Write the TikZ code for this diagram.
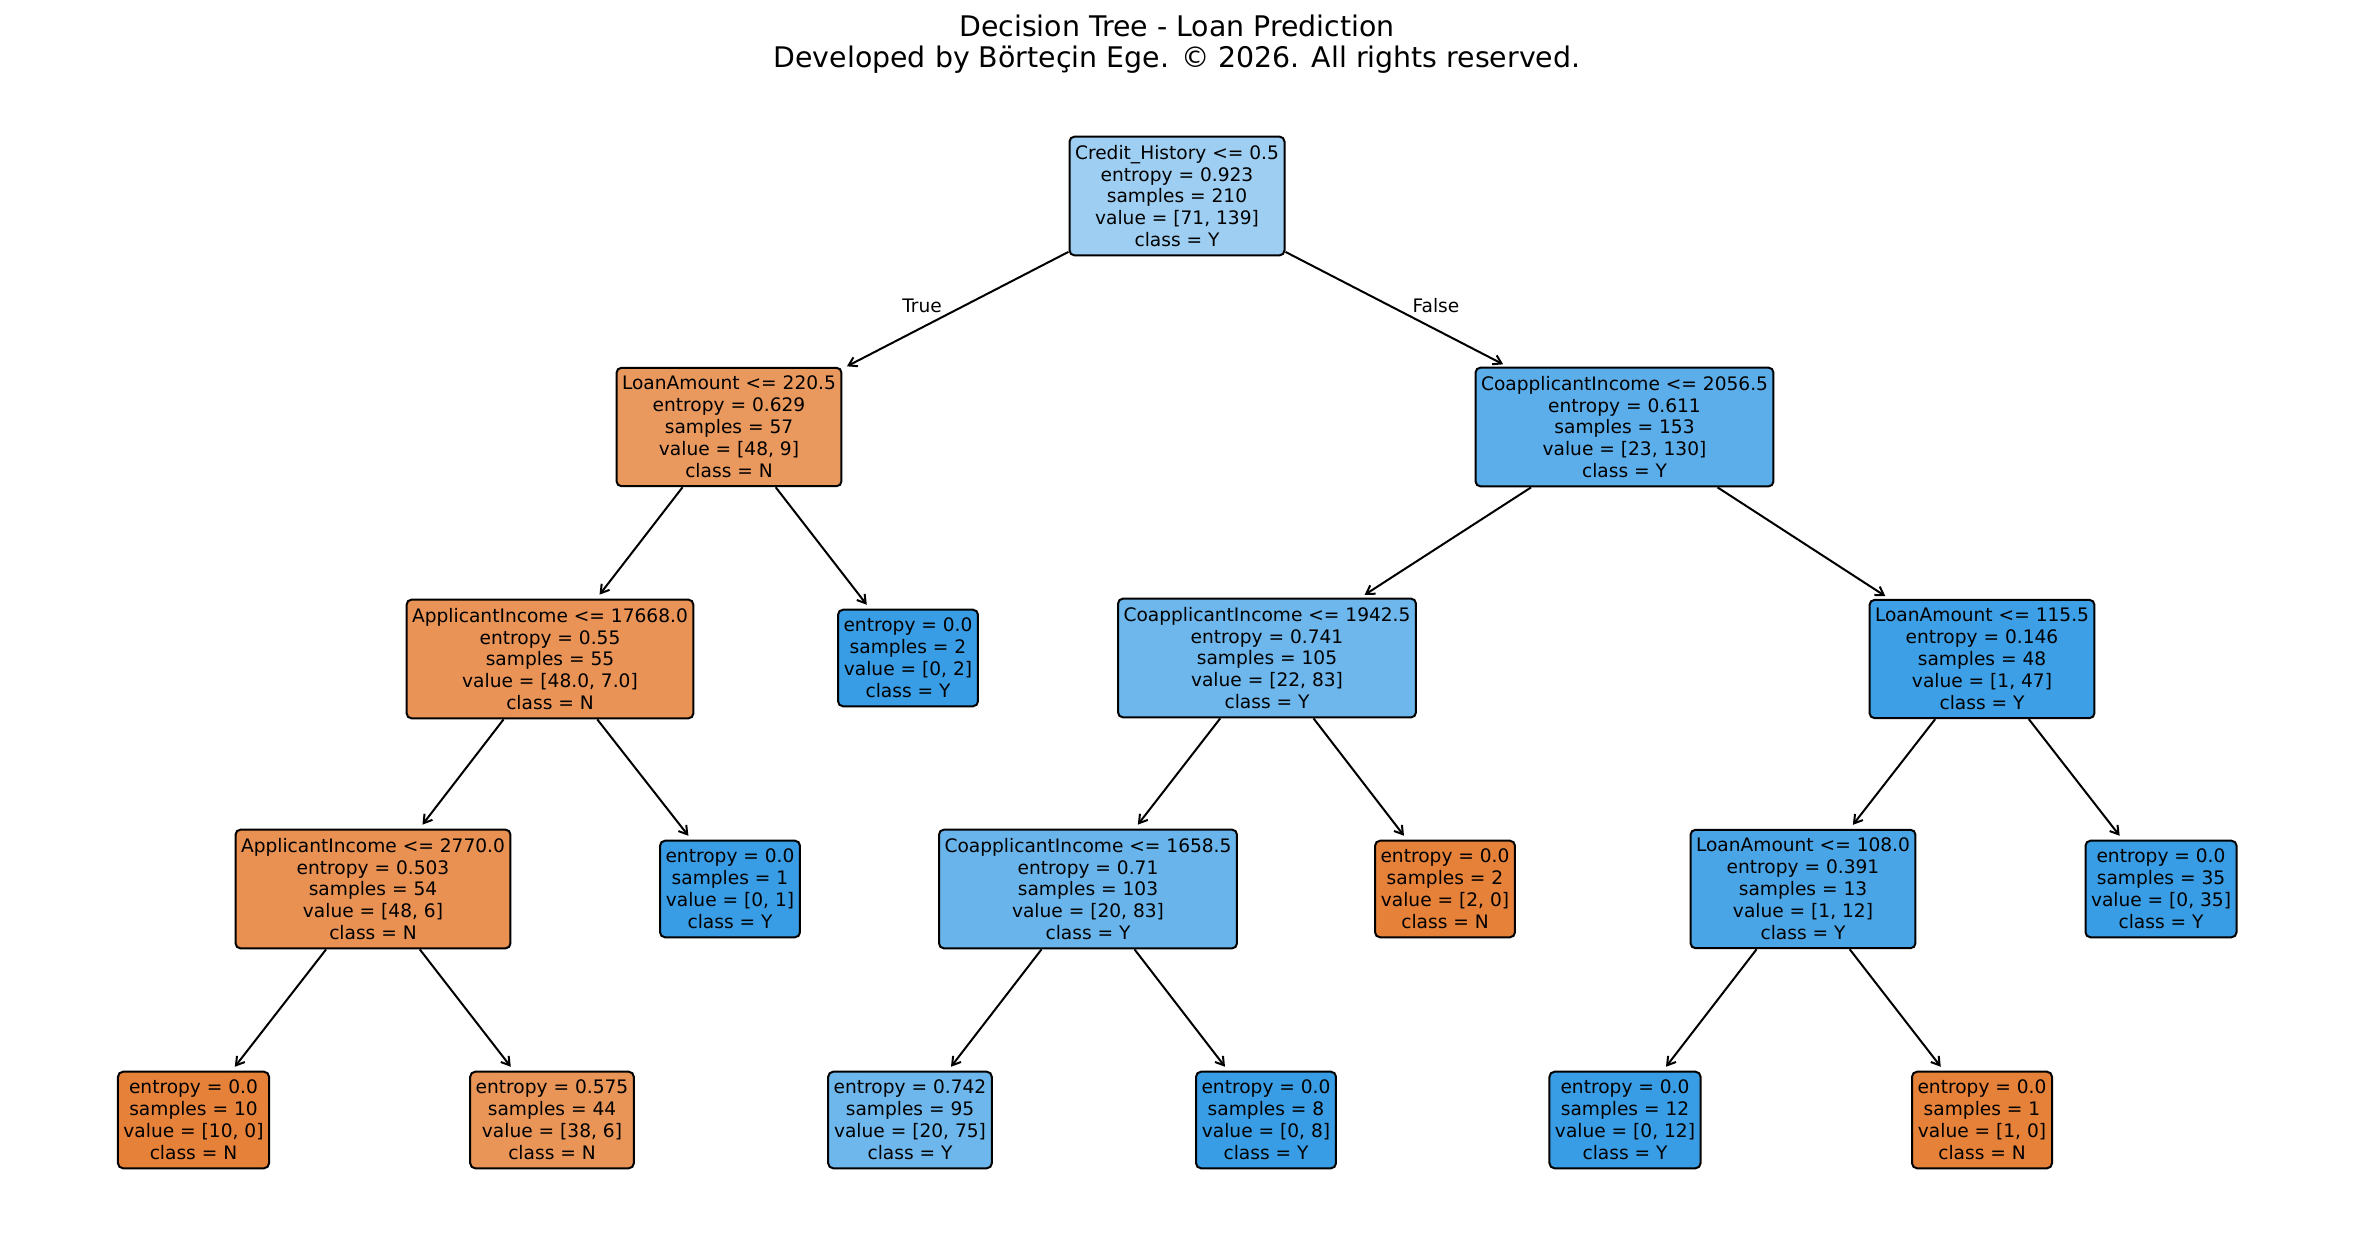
\documentclass[tikz,border=0pt]{standalone}
\usepackage{fontspec}
\setmainfont{DejaVu Sans}
\usetikzlibrary{arrows.meta}
\definecolor{ycol0}{RGB}{158,207,242}
\definecolor{ycol1}{RGB}{92,174,234}
\definecolor{ycol2}{RGB}{109,183,236}
\definecolor{ycol3}{RGB}{61,159,230}
\definecolor{ycol4}{RGB}{105,181,235}
\definecolor{ycol5}{RGB}{74,165,231}
\definecolor{ycol6}{RGB}{110,183,236}
\definecolor{yfull}{RGB}{57,157,229}
\definecolor{ncol1}{RGB}{234,153,94}
\definecolor{ncol2}{RGB}{233,147,86}
\definecolor{ncol3}{RGB}{232,145,82}
\definecolor{ncol4}{RGB}{233,149,88}
\definecolor{nfull}{RGB}{229,129,57}

\begin{document}
\begin{tikzpicture}[x=0.5pt,y=-0.5pt,>={Straight Barb[length=4pt,width=5pt]},
 nodebox/.style={draw,line width=1pt,rounded corners=2.5pt,align=center,inner xsep=2.75pt,inner ysep=4.2pt,font=\fontsize{9.3}{10.95}\selectfont},
 arr/.style={->,line width=1pt,shorten >=2.5pt}]
\useasboundingbox (0,0) rectangle (2355,1251);
\node[anchor=north,inner sep=0pt,align=center,font=\fontsize{14.2}{15.5}\selectfont] (title) at (1177,15)
 {Decision Tree - Loan Prediction\\Developed by Börteçin Ege. © 2026. All rights reserved.};
\node[nodebox,fill=ycol0] (root) at (1177,196) {Credit\_History <= 0.5\\entropy = 0.923\\samples = 210\\value = [71, 139]\\class = Y};
\node[nodebox,fill=ncol1] (la1) at (729,427) {LoanAmount <= 220.5\\entropy = 0.629\\samples = 57\\value = [48, 9]\\class = N};
\node[nodebox,fill=ycol1] (ci1) at (1624.5,427) {CoapplicantIncome <= 2056.5\\entropy = 0.611\\samples = 153\\value = [23, 130]\\class = Y};
\node[nodebox,fill=ncol2] (ai1) at (550,659) {ApplicantIncome <= 17668.0\\entropy = 0.55\\samples = 55\\value = [48.0, 7.0]\\class = N};
\node[nodebox,fill=yfull] (leaf2) at (908,658) {entropy = 0.0\\samples = 2\\value = [0, 2]\\class = Y};
\node[nodebox,fill=ycol2] (ci2) at (1267,658) {CoapplicantIncome <= 1942.5\\entropy = 0.741\\samples = 105\\value = [22, 83]\\class = Y};
\node[nodebox,fill=ycol3] (la2) at (1982,659) {LoanAmount <= 115.5\\entropy = 0.146\\samples = 48\\value = [1, 47]\\class = Y};
\node[nodebox,fill=ncol3] (ai2) at (373,889) {ApplicantIncome <= 2770.0\\entropy = 0.503\\samples = 54\\value = [48, 6]\\class = N};
\node[nodebox,fill=yfull] (leaf1) at (730,889) {entropy = 0.0\\samples = 1\\value = [0, 1]\\class = Y};
\node[nodebox,fill=ycol4] (ci3) at (1088,889) {CoapplicantIncome <= 1658.5\\entropy = 0.71\\samples = 103\\value = [20, 83]\\class = Y};
\node[nodebox,fill=nfull] (leafn2) at (1445,889) {entropy = 0.0\\samples = 2\\value = [2, 0]\\class = N};
\node[nodebox,fill=ycol5] (la3) at (1803,889) {LoanAmount <= 108.0\\entropy = 0.391\\samples = 13\\value = [1, 12]\\class = Y};
\node[nodebox,fill=yfull] (leaf35) at (2161,889) {entropy = 0.0\\samples = 35\\value = [0, 35]\\class = Y};
\node[nodebox,fill=nfull] (leaf10) at (193.5,1120) {entropy = 0.0\\samples = 10\\value = [10, 0]\\class = N};
\node[nodebox,fill=ncol4] (leaf44) at (552,1120) {entropy = 0.575\\samples = 44\\value = [38, 6]\\class = N};
\node[nodebox,fill=ycol6] (leaf95) at (910,1120) {entropy = 0.742\\samples = 95\\value = [20, 75]\\class = Y};
\node[nodebox,fill=yfull] (leaf8) at (1266,1120) {entropy = 0.0\\samples = 8\\value = [0, 8]\\class = Y};
\node[nodebox,fill=yfull] (leaf12) at (1625,1120) {entropy = 0.0\\samples = 12\\value = [0, 12]\\class = Y};
\node[nodebox,fill=nfull] (leafn1) at (1982,1120) {entropy = 0.0\\samples = 1\\value = [1, 0]\\class = N};
\node[font=\fontsize{9.3}{10.95}\selectfont] (truelbl) at (922,306) {True};
\node[font=\fontsize{9.3}{10.95}\selectfont] (falselbl) at (1436,306) {False};
\draw[arr] (root)--(la1);
\draw[arr] (root)--(ci1);
\draw[arr] (la1)--(ai1);
\draw[arr] (la1)--(leaf2);
\draw[arr] (ci1)--(ci2);
\draw[arr] (ci1)--(la2);
\draw[arr] (ai1)--(ai2);
\draw[arr] (ai1)--(leaf1);
\draw[arr] (ci2)--(ci3);
\draw[arr] (ci2)--(leafn2);
\draw[arr] (la2)--(la3);
\draw[arr] (la2)--(leaf35);
\draw[arr] (ai2)--(leaf10);
\draw[arr] (ai2)--(leaf44);
\draw[arr] (ci3)--(leaf95);
\draw[arr] (ci3)--(leaf8);
\draw[arr] (la3)--(leaf12);
\draw[arr] (la3)--(leafn1);
\end{tikzpicture}
\end{document}
